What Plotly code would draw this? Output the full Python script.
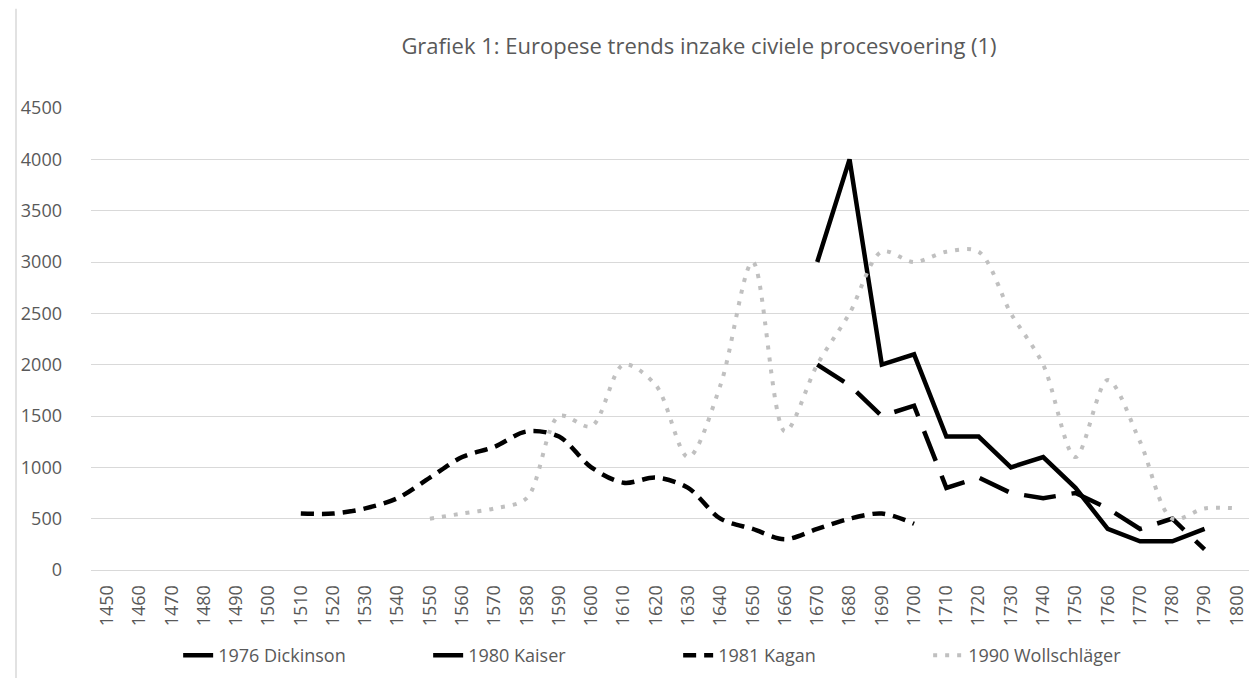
import plotly.graph_objects as go

years = [str(y) for y in range(1450, 1801, 10)]

dickinson_years = ["1670", "1680", "1690", "1700", "1710", "1720", "1730", "1740", "1750", "1760", "1770", "1780", "1790"]
dickinson_vals = [3000, 4000, 2000, 2100, 1300, 1300, 1000, 1100, 800, 400, 280, 280, 400]

kaiser_years = ["1670", "1680", "1690", "1700", "1710", "1720", "1730", "1740", "1750", "1760", "1770", "1780", "1790"]
kaiser_vals = [2000, 1800, 1500, 1600, 800, 900, 750, 700, 750, 600, 400, 500, 200]

kagan_years = ["1510", "1520", "1530", "1540", "1550", "1560", "1570", "1580", "1590", "1600",
               "1610", "1620", "1630", "1640", "1650", "1660", "1670", "1680", "1690", "1700"]
kagan_vals = [550, 550, 600, 700, 900, 1100, 1200, 1350, 1300, 1000,
              850, 900, 800, 500, 400, 300, 400, 500, 550, 450]

woll_years = ["1550", "1560", "1570", "1580", "1590", "1600", "1610", "1620", "1630", "1640",
              "1650", "1660", "1670", "1680", "1690", "1700", "1710", "1720", "1730", "1740",
              "1750", "1760", "1770", "1780", "1790", "1800"]
woll_vals = [500, 550, 600, 700, 1500, 1400, 2000, 1800, 1100, 1800,
             3000, 1350, 2000, 2500, 3100, 3000, 3100, 3100, 2500, 2000,
             1100, 1850, 1250, 500, 600, 600]

y_ticks = [0, 500, 1000, 1500, 2000, 2500, 3000, 3500, 4000, 4500]

FONT = "Open Sans"
TXT = "#595959"

fig = go.Figure()
fig.add_trace(go.Scatter(x=dickinson_years, y=dickinson_vals, name="1976 Dickinson", mode="lines",
                         line=dict(color="black", width=4.5)))
fig.add_trace(go.Scatter(x=kaiser_years, y=kaiser_vals, name="1980 Kaiser", mode="lines",
                         line=dict(color="black", width=4.5, dash="32px,16px")))
fig.add_trace(go.Scatter(x=kagan_years, y=kagan_vals, name="1981 Kagan", mode="lines",
                         line=dict(color="black", width=4.5, dash="13px,8px", shape="spline", smoothing=0.9)))
fig.add_trace(go.Scatter(x=woll_years, y=woll_vals, name="1990 Wollschläger", mode="lines",
                         line=dict(color="#c0c0c0", width=4, dash="4px,8px", shape="spline", smoothing=0.9)))

fig.update_layout(
    width=1257, height=678,
    margin=dict(l=83, r=12, t=100, b=113),
    paper_bgcolor="white", plot_bgcolor="white",
    font=dict(family=FONT, color=TXT, size=18),
    title=dict(text="Grafiek 1: Europese trends inzake civiele procesvoering (1)",
               x=691 / 1257, xref="container", xanchor="center",
               y=1 - 38 / 678, yref="container", yanchor="middle",
               font=dict(family=FONT, size=22, color=TXT)),
    showlegend=True,
    legend=dict(orientation="h", x=0.075, xanchor="left", y=-0.185, yanchor="middle",
                font=dict(family=FONT, size=18, color=TXT),
                entrywidth=205, entrywidthmode="pixels", bgcolor="rgba(0,0,0,0)"),
    xaxis=dict(type="category", categoryorder="array", categoryarray=years,
               range=[-0.5, len(years) - 0.5],
               tickangle=-90, showgrid=False, showline=True, linecolor="#d9d9d9", linewidth=1,
               ticks="", tickfont=dict(size=18, color=TXT), ticklabelstandoff=7, zeroline=False),
    yaxis=dict(range=[0, 4500], tickvals=y_ticks, showgrid=True, gridcolor="#d9d9d9", gridwidth=1,
               zeroline=False, showline=False, ticks="", tickfont=dict(size=18, color=TXT),
               ticklabelstandoff=28),
    shapes=[dict(type="line", xref="paper", yref="paper", x0=(8 - 83) / 1162, x1=(8 - 83) / 1162,
                 y0=(565 - 678) / 465, y1=(565 - 0) / 465, line=dict(color="#d9d9d9", width=1.5))],
)

fig.write_html("out.html")
